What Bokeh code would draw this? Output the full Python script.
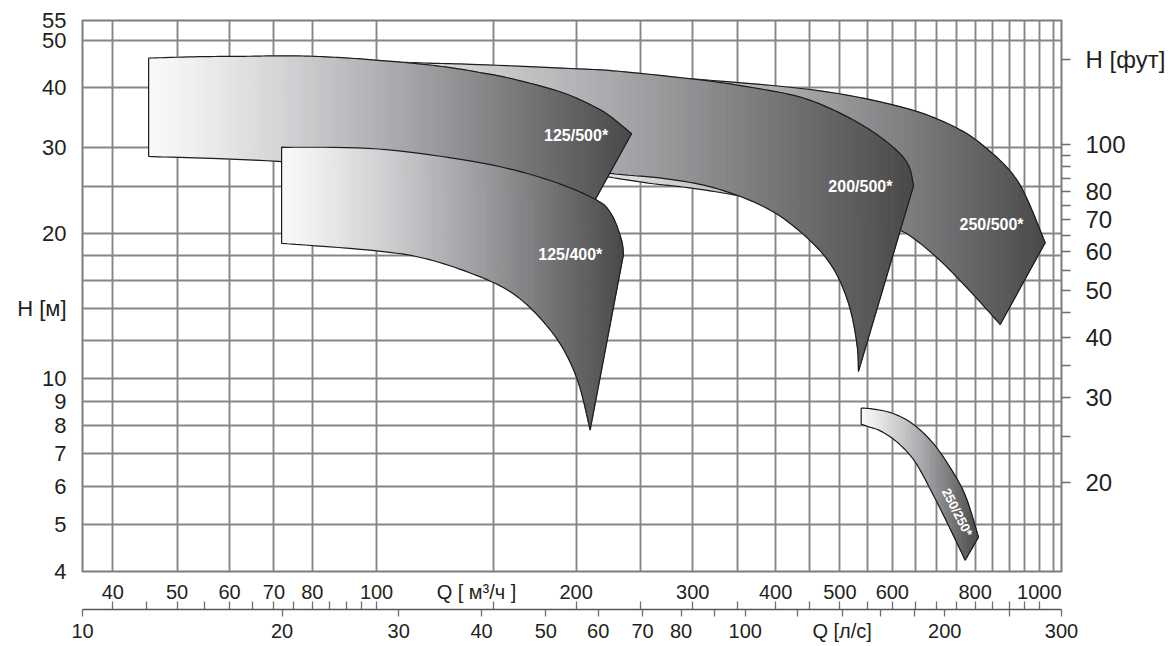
import math
from bokeh.plotting import figure
from bokeh.models import LogAxis, FixedTicker, Grid, Range1d, LogScale
from bokeh.core.properties import value
from bokeh.embed import file_html
from bokeh.resources import INLINE

# ---------------- axes / ranges ----------------
Q_M3H_RANGE = (36, 1080)        # m3/h
Q_LS_RANGE = (10, 300)          # l/s
H_M_RANGE = (4, 55)             # m
M_TO_FT = 3.28084

m3h_label_ticks = [40, 50, 60, 70, 80, 100, 141.5, 200, 300, 400, 500, 600, 800, 1000]
m3h_label_texts = ["40", "50", "60", "70", "80", "100", "Q [ м³/ч ]", "200", "300",
                   "400", "500", "600", "800", "1000"]
m3h_small_ticks = [40, 45, 50, 55, 60, 65, 70, 75, 80, 85, 90, 95, 100, 150, 200, 250,
                   300, 350, 400, 450, 500, 550, 600, 650, 700, 750, 800, 850, 900, 950, 1000]

ls_ticks = [10, 20, 30, 40, 50, 60, 70, 80, 90, 100, 120, 140, 160, 180, 200, 250, 300]
ls_labels = ["10", "20", "30", "40", "50", "60", "70", "80", "", "100", "", "Q [л/с]",
             "", "", "200", "", "300"]

hm_ticks = [4, 5, 6, 7, 8, 9, 10, 14, 20, 30, 40, 50, 55]
hm_labels = ["4", "5", "6", "7", "8", "9", "10", "H [м]", "20", "30", "40", "50", "55"]

hft_ticks = [20, 25, 30, 35, 40, 45, 50, 55, 60, 65, 70, 75, 80, 85, 90, 95, 100, 150]
hft_labels = ["20", "", "30", "", "40", "", "50", "", "60", "", "70", "", "80", "", "",
              "", "100", "H [фут]"]

grid_q = [40, 50, 60, 70, 80, 100, 150, 200, 250, 300, 350, 400, 450, 500, 550, 600,
          650, 700, 750, 800, 850, 900, 950, 1000, 1050]
grid_h = [5, 6, 7, 8, 9, 10, 12, 14, 16, 18, 20, 25, 30, 40, 50]

# ---------------- pump fields (Q m3/h, H m) ----------------
f250_500_top_q = [162, 231.7, 309.6, 464.3, 620, 737.7, 828.4, 930, 1020.6]
f250_500_top_h = [43.3, 42.3, 41.5, 39.4, 36.43, 33.37, 30.1, 25.47, 19.12]
f250_500_bot_q = [162, 181.7, 216.2, 257.2, 306, 377, 464.3, 552, 620, 696.3, 781.9, 873]
f250_500_bot_h = [28.5, 27.8, 26.37, 25.38, 24.67, 23.5, 22.2, 21.17, 20.21, 17.94, 15.3, 12.95]

f200_500_top_q = [73.6, 100.7, 119.8, 142.5, 201.7, 231.7, 306, 364, 433, 491.9, 552, 606, 634.8, 645.9]
f200_500_top_h = [45.4, 45.2, 44.9, 44.6, 43.7, 43.2, 41.5, 40.1, 38.3, 35.8, 32.85, 29.85, 27.6, 25.05]
f200_500_bot_q = [73.6, 119.8, 163.7, 223.8, 275.7, 328, 390.2, 443.2, 486.3, 515, 530.4, 533.5]
f200_500_bot_h = [29.57, 29.15, 28.06, 26.6, 25.87, 24.67, 22.42, 19.73, 17.1, 14.36, 11.86, 10.36]

f125_500_top_q = [45.3, 53.9, 64.1, 71.9, 79.8, 90.7, 100.7, 112.9, 127, 142.5, 159.8, 190.1, 214, 226.2, 242.5]
f125_500_top_h = [46.0, 46.3, 46.4, 46.5, 46.4, 46.0, 45.5, 44.9, 44.1, 43.0, 41.7, 39.1, 36.4, 34.7, 32.1]
f125_500_bot_q = [45.3, 57.7, 71.9, 100.7, 142.5, 179.6, 205.2]
f125_500_bot_h = [28.8, 28.5, 28.1, 27.1, 25.3, 23.2, 21.2]

f125_400_top_q = [71.9, 100.7, 142.5, 179.6, 213.7, 226, 234, 235.8]
f125_400_top_h = [30.1, 29.85, 28.0, 25.9, 23.5, 21.9, 19.43, 18.08]
f125_400_bot_q = [71.9, 100.7, 119.8, 142.5, 160, 175.5, 190.3, 201.7, 210]
f125_400_bot_h = [19.06, 18.37, 17.65, 16.3, 15.06, 13.47, 11.67, 9.80, 7.84]

f250_250_top_q = [538.5, 558.8, 598.7, 641.9, 688, 729.4, 772.9, 809.4]
f250_250_top_h = [8.70, 8.67, 8.50, 8.10, 7.42, 6.64, 5.75, 4.71]
f250_250_bot_q = [538.5, 552, 578.5, 613, 649.4, 688, 729.4, 772.9]
f250_250_bot_h = [8.06, 7.97, 7.78, 7.36, 6.74, 5.84, 4.98, 4.22]

label_q = [200, 196, 537, 847]
label_h = [31.9, 18.05, 24.97, 20.8]
label_text = ["125/500*", "125/400*", "200/500*", "250/500*"]
rot_label_q = [752]
rot_label_h = [5.30]
rot_label_text = ["250/250*"]

# ---------------- figure ----------------
p = figure(width=1172, height=644, x_axis_type="log", y_axis_type="log",
           x_range=Range1d(*Q_M3H_RANGE), y_range=Range1d(*H_M_RANGE),
           x_axis_location=None, y_axis_location=None,
           toolbar_location=None, output_backend="svg",
           min_border_left=82, min_border_right=111, min_border_top=20, min_border_bottom=0)
p.background_fill_color = "white"
p.border_fill_color = "white"
p.outline_line_color = "#7c7c7c"
p.outline_line_width = 2
for g in list(p.xgrid) + list(p.ygrid):
    g.visible = False

p.extra_x_ranges = {"qls": Range1d(*Q_LS_RANGE)}
p.extra_x_scales = {"qls": LogScale()}
p.extra_y_ranges = {"ft": Range1d(H_M_RANGE[0] * M_TO_FT, H_M_RANGE[1] * M_TO_FT)}
p.extra_y_scales = {"ft": LogScale()}

GRID_COLOR = "#868686"
p.add_layout(Grid(dimension=0, ticker=FixedTicker(ticks=grid_q),
                  grid_line_color=GRID_COLOR, grid_line_width=1.9))
p.add_layout(Grid(dimension=1, ticker=FixedTicker(ticks=grid_h),
                  grid_line_color=GRID_COLOR, grid_line_width=1.9))

TXT = "#231f20"
FONT = "Liberation Sans"

# m3/h labels (closest to the plot)
axA = LogAxis(ticker=FixedTicker(ticks=m3h_label_ticks),
              major_label_overrides=dict(zip(m3h_label_ticks, m3h_label_texts)),
              major_tick_out=0, major_tick_in=0, minor_tick_out=0, minor_tick_in=0,
              axis_line_color=None,
              major_label_standoff=9, major_label_text_font=FONT,
              major_label_text_font_size="20px", major_label_text_color=TXT,
              axis_label="\u00a0", axis_label_text_font_size="1px", axis_label_standoff=0)
# m3/h tick marks pointing up from the shared axis line
axB = LogAxis(ticker=FixedTicker(ticks=m3h_small_ticks),
              major_label_overrides={t: "" for t in m3h_small_ticks},
              major_tick_out=0, major_tick_in=8, minor_tick_out=0, minor_tick_in=0,
              axis_line_color=None,
              major_tick_line_color="#6e6e6e", major_tick_line_width=1.3,
              major_label_standoff=0, major_label_text_font_size="1px")
# l/s axis
axC = LogAxis(x_range_name="qls", ticker=FixedTicker(ticks=ls_ticks),
              major_label_overrides=dict(zip(ls_ticks, ls_labels)),
              major_tick_out=7, major_tick_in=0, minor_tick_out=0, minor_tick_in=0,
              axis_line_color="#555555", axis_line_width=1.6,
              major_tick_line_color="#6e6e6e", major_tick_line_width=1.3,
              major_label_standoff=3, major_label_text_font=FONT,
              major_label_text_font_size="20px", major_label_text_color=TXT)
p.add_layout(axA, "below")
p.add_layout(axB, "below")
p.add_layout(axC, "below")

axL = LogAxis(ticker=FixedTicker(ticks=hm_ticks),
              major_label_overrides=dict(zip(hm_ticks, hm_labels)),
              major_tick_out=0, major_tick_in=0, minor_tick_out=0, minor_tick_in=0,
              axis_line_color=None,
              major_label_standoff=16, major_label_text_font=FONT,
              major_label_text_font_size="22px", major_label_text_color=TXT)
p.add_layout(axL, "left")

axR = LogAxis(y_range_name="ft", ticker=FixedTicker(ticks=hft_ticks),
              major_label_overrides=dict(zip(hft_ticks, hft_labels)),
              major_tick_out=9, major_tick_in=0, minor_tick_out=0, minor_tick_in=0,
              axis_line_color=None,
              major_tick_line_color="#6e6e6e", major_tick_line_width=1.4,
              major_label_standoff=15, major_label_text_font=FONT,
              major_label_text_font_size="24px", major_label_text_color=TXT)
p.add_layout(axR, "right")


# ---------------- drawing helpers ----------------
def ramp(t):
    v = 249 - 176 * (t ** 1.2)
    r = int(round(v))
    b = min(255, int(round(v + 4 * (1 - abs(2 * t - 1)))))
    return "#%02x%02x%02x" % (r, r, b)


def smooth(qs, hs, k=10):
    """Catmull-Rom curve through the read points (log space), for a smooth outline."""
    pts = [(math.log10(a), math.log10(b)) for a, b in zip(qs, hs)]
    n = len(pts)
    out = []
    for i in range(n - 1):
        p0 = pts[i - 1] if i > 0 else pts[i]
        p1, p2 = pts[i], pts[i + 1]
        p3 = pts[i + 2] if i + 2 < n else pts[i + 1]
        for j in range(k):
            t = j / k
            t2, t3 = t * t, t * t * t
            c = [0.5 * (2 * p1[d] + (-p0[d] + p2[d]) * t +
                        (2 * p0[d] - 5 * p1[d] + 4 * p2[d] - p3[d]) * t2 +
                        (-p0[d] + 3 * p1[d] - 3 * p2[d] + p3[d]) * t3) for d in (0, 1)]
            out.append((c[0], c[1]))
    out.append(pts[-1])
    return out


def clip_half(pts, x0, keep_greater):
    out = []
    n = len(pts)
    for i in range(n):
        cur, prev = pts[i], pts[i - 1]
        cin = cur[0] >= x0 if keep_greater else cur[0] <= x0
        pin = prev[0] >= x0 if keep_greater else prev[0] <= x0
        if cin:
            if not pin:
                t = (x0 - prev[0]) / (cur[0] - prev[0])
                out.append((x0, prev[1] + t * (cur[1] - prev[1])))
            out.append(cur)
        elif pin:
            t = (x0 - prev[0]) / (cur[0] - prev[0])
            out.append((x0, prev[1] + t * (cur[1] - prev[1])))
    return out


def draw_field(top_q, top_h, bot_q, bot_h, n=100):
    poly = smooth(top_q, top_h) + smooth(bot_q, bot_h)[::-1]
    lo = min(pt[0] for pt in poly)
    hi = max(pt[0] for pt in poly)
    d = (hi - lo) / n
    xs, ys, cols = [], [], []
    for i in range(n):
        a, b = lo + i * d, lo + (i + 1) * d
        pts = clip_half(poly, a, True)
        if pts:
            pts = clip_half(pts, b, False)
        if len(pts) < 3:
            continue
        xs.append([10 ** pt[0] for pt in pts])
        ys.append([10 ** pt[1] for pt in pts])
        cols.append(ramp((i + 0.5) / n))
    p.patches(xs, ys, fill_color=cols, line_color=cols, line_width=0.9)
    p.patch([10 ** pt[0] for pt in poly], [10 ** pt[1] for pt in poly],
            fill_color=None, line_color="#1c1c1c", line_width=1.2)


draw_field(f250_500_top_q, f250_500_top_h, f250_500_bot_q, f250_500_bot_h)
draw_field(f200_500_top_q, f200_500_top_h, f200_500_bot_q, f200_500_bot_h)
draw_field(f125_500_top_q, f125_500_top_h, f125_500_bot_q, f125_500_bot_h)
draw_field(f125_400_top_q, f125_400_top_h, f125_400_bot_q, f125_400_bot_h)
draw_field(f250_250_top_q, f250_250_top_h, f250_250_bot_q, f250_250_bot_h, n=70)

p.text(x=label_q, y=label_h, text=label_text, text_color="white",
       text_font=value(FONT), text_font_style="bold", text_font_size="16px",
       text_align="center", text_baseline="middle")
p.text(x=rot_label_q, y=rot_label_h, text=rot_label_text, text_color="white",
       text_font=value(FONT), text_font_style="bold", text_font_size="13px",
       text_align="center", text_baseline="middle", angle=-1.10)

open("out.html", "w").write(file_html(p, INLINE))
